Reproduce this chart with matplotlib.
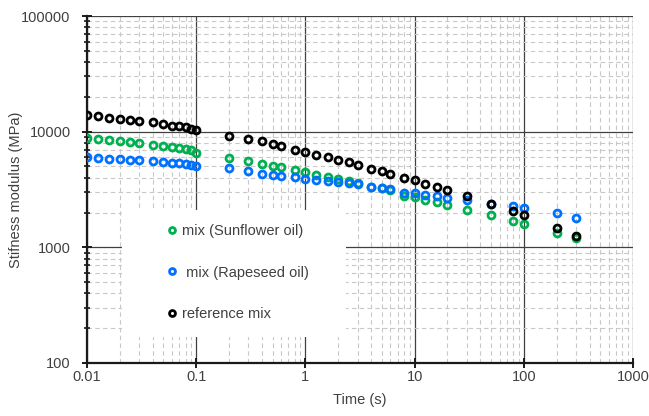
import matplotlib
matplotlib.use('Agg')
import matplotlib.pyplot as plt
from matplotlib.patches import Rectangle
from matplotlib.ticker import LogLocator, NullFormatter, FixedLocator

plt.rcParams['font.family'] = ['Liberation Sans', 'DejaVu Sans']

# loading time (s)
time_s = [0.01, 0.0125, 0.016, 0.02, 0.025, 0.03, 0.04, 0.05, 0.06, 0.07, 0.08, 0.09, 0.1,
          0.2, 0.3, 0.4, 0.5, 0.6, 0.8,
          1, 1.25, 1.6, 2, 2.5, 3, 4, 5, 6, 8,
          10, 12.5, 16, 20, 30, 50, 80, 100, 200, 300]

# stiffness modulus (MPa)
sunflower = [8820, 8700, 8530, 8360, 8150, 7990, 7610, 7460, 7320, 7230, 7090, 6990, 6600,
             5920, 5620, 5260, 5010, 4950, 4690,
             4450, 4250, 4060, 3900, 3720, 3600, 3350, 3230, 3100, 2800,
             2700, 2590, 2450, 2340, 2110, 1920, 1680, 1600, 1330, 1210]
rapeseed = [6000, 5920, 5840, 5800, 5730, 5650, 5530, 5470, 5400, 5320, 5260, 5190, 5050,
            4850, 4540, 4310, 4190, 4110, 4060,
            3900, 3850, 3720, 3650, 3600, 3540, 3330, 3260, 3180, 2960,
            2950, 2860, 2760, 2680, 2550, 2350, 2260, 2190, 1980, 1790]
reference = [14000, 13600, 13100, 12950, 12700, 12450, 12100, 11650, 11300, 11100, 10900, 10600, 10400,
             9100, 8700, 8250, 7830, 7460, 6990,
             6630, 6330, 6040, 5730, 5430, 5190, 4760, 4540, 4330, 3980,
             3790, 3550, 3330, 3110, 2800, 2380, 2050, 1920, 1470, 1260]

labels = ['mix (Sunflower oil)', ' mix (Rapeseed oil)', 'reference mix']
colors = ['#00B050', '#0070FF', '#000000']
txt = '#404040'

fig = plt.figure(figsize=(6.49, 4.16), dpi=100)
ax = fig.add_axes([87/649, 1 - 363/416, 546/649, 347/416])

for ys, lab, c in zip([sunflower, rapeseed, reference], labels, colors):
    ax.plot(time_s, ys, linestyle='none', marker='o', markersize=5,
            markerfacecolor='none', markeredgecolor=c, markeredgewidth=2.0,
            label=lab, zorder=5)

ax.set_xscale('log')
ax.set_yscale('log')
ax.set_xlim(0.01, 1000)
ax.set_ylim(100, 100000)

ax.xaxis.set_major_locator(FixedLocator([0.01, 0.1, 1, 10, 100, 1000]))
ax.set_xticklabels(['0.01', '0.1', '1', '10', '100', '1000'])
ax.yaxis.set_major_locator(FixedLocator([100, 1000, 10000, 100000]))
ax.set_yticklabels(['100', '1000', '10000', '100000'])
ax.xaxis.set_minor_locator(LogLocator(base=10, subs=range(2, 10)))
ax.yaxis.set_minor_locator(LogLocator(base=10, subs=range(2, 10)))
ax.xaxis.set_minor_formatter(NullFormatter())
ax.yaxis.set_minor_formatter(NullFormatter())

ax.grid(which='major', color='#404040', linewidth=0.9, zorder=1)
ax.grid(which='minor', color='#c8c8c8', linewidth=0.8, linestyle=(0, (4, 3)), zorder=0)
ax.set_axisbelow(True)

for s in ['top', 'right']:
    ax.spines[s].set_visible(False)
for s in ['left', 'bottom']:
    ax.spines[s].set_linewidth(1.6)
    ax.spines[s].set_color('#1a1a1a')

ax.tick_params(axis='both', which='major', direction='inout', length=7.5, width=1.4,
               color='#1a1a1a', labelsize=10.5, labelcolor=txt)
ax.tick_params(axis='y', which='major', pad=8)
ax.tick_params(axis='x', which='major', pad=1)
ax.tick_params(axis='y', which='minor', direction='inout', length=4.5, width=1.2, color='#1a1a1a')
ax.tick_params(axis='x', which='minor', length=0)

ax.set_xlabel('Time (s)', fontsize=10.5, color=txt, labelpad=7)
ax.set_ylabel('Stifness modulus (MPa)', fontsize=10.5, color=txt, labelpad=-1.5)

# white panel behind the legend
ax.add_patch(Rectangle((0.064, 0.075), 0.41, 0.365, transform=ax.transAxes,
                       facecolor='white', edgecolor='none', zorder=3))
leg = ax.legend(loc='upper left', bbox_to_anchor=(0.135, 0.422), frameon=False,
                fontsize=10.5, labelcolor=txt, handlelength=0.6, handletextpad=0.35,
                borderpad=0, labelspacing=1.9, markerscale=0.85)
leg.set_zorder(6)

fig.savefig('out.png', dpi=100)
